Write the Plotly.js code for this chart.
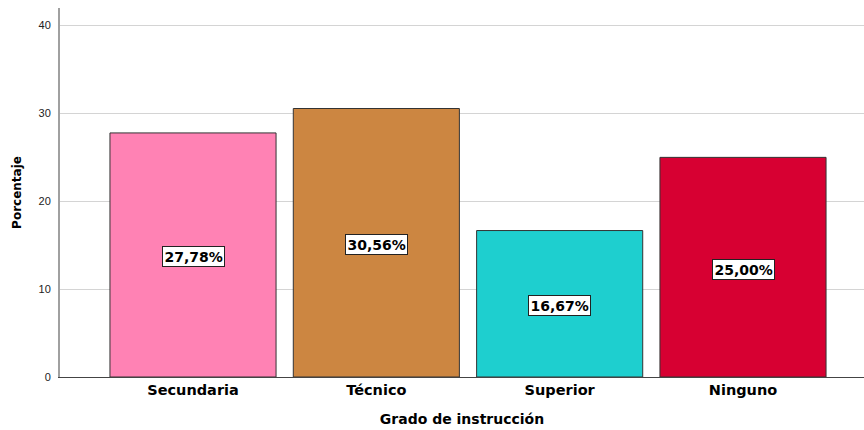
<!DOCTYPE html>
<html>
<head>
<meta charset="utf-8">
<script src="https://cdn.plot.ly/plotly-3.0.1.min.js"></script>
<style>html,body{margin:0;padding:0;background:#fff;}#chart{width:864px;height:430px;}</style>
</head>
<body>
<div id="chart"></div>
<script>
const categories = ["Secundaria", "Técnico", "Superior", "Ninguno"];
const values = [27.78, 30.56, 16.67, 25.00];
const labels = ["27,78%", "30,56%", "16,67%", "25,00%"];
const colors = ["#FF82B4", "#CC8641", "#1ECFCF", "#D70032"];
const yTicks = [0, 10, 20, 30, 40];

const trace = {
  type: "bar",
  x: categories,
  y: values,
  marker: {color: colors, line: {color: "#333333", width: 1}},
  hoverinfo: "none"
};

const annotations = categories.map((c, i) => ({
  x: c, y: values[i] / 2, xref: "x", yref: "y", yshift: -2,
  text: "<b>" + labels[i] + "</b>",
  showarrow: false,
  font: {family: "DejaVu Sans, sans-serif", size: 14, color: "#000"},
  bgcolor: "#ffffff", bordercolor: "#222222", borderwidth: 1, borderpad: 1.5
}));

const layout = {
  width: 864, height: 430,
  margin: {l: 60, r: 0, t: 8, b: 53},
  paper_bgcolor: "#fff", plot_bgcolor: "#fff",
  bargap: 0.094,
  showlegend: false,
  xaxis: {
    range: [-0.7255, 3.66],
    showgrid: false, zeroline: false,
    showline: true, linecolor: "#444", linewidth: 1,
    ticks: "",
    tickfont: {family: "DejaVu Sans, sans-serif", size: 14.5, color: "#000", weight: "bold"},
    title: {text: "<b>Grado de instrucción</b>", font: {family: "DejaVu Sans, sans-serif", size: 14, color: "#000"}, standoff: 16}
  },
  yaxis: {
    range: [0, 42],
    tickvals: yTicks,
    showgrid: true, gridcolor: "#d4d4d4", gridwidth: 1,
    zeroline: false,
    showline: true, linecolor: "#a0a0a0", linewidth: 2,
    ticks: "", ticklen: 0,
    ticklabelstandoff: 5,
    tickfont: {family: "Liberation Sans, Arial, sans-serif", size: 11, color: "#222"},
    title: {text: "<b>Porcentaje</b>", font: {family: "DejaVu Sans, sans-serif", size: 12, color: "#000"}, standoff: 14}
  },
  annotations: annotations
};

Plotly.newPlot("chart", [trace], layout, {displayModeBar: false, staticPlot: true});
</script>
</body>
</html>
